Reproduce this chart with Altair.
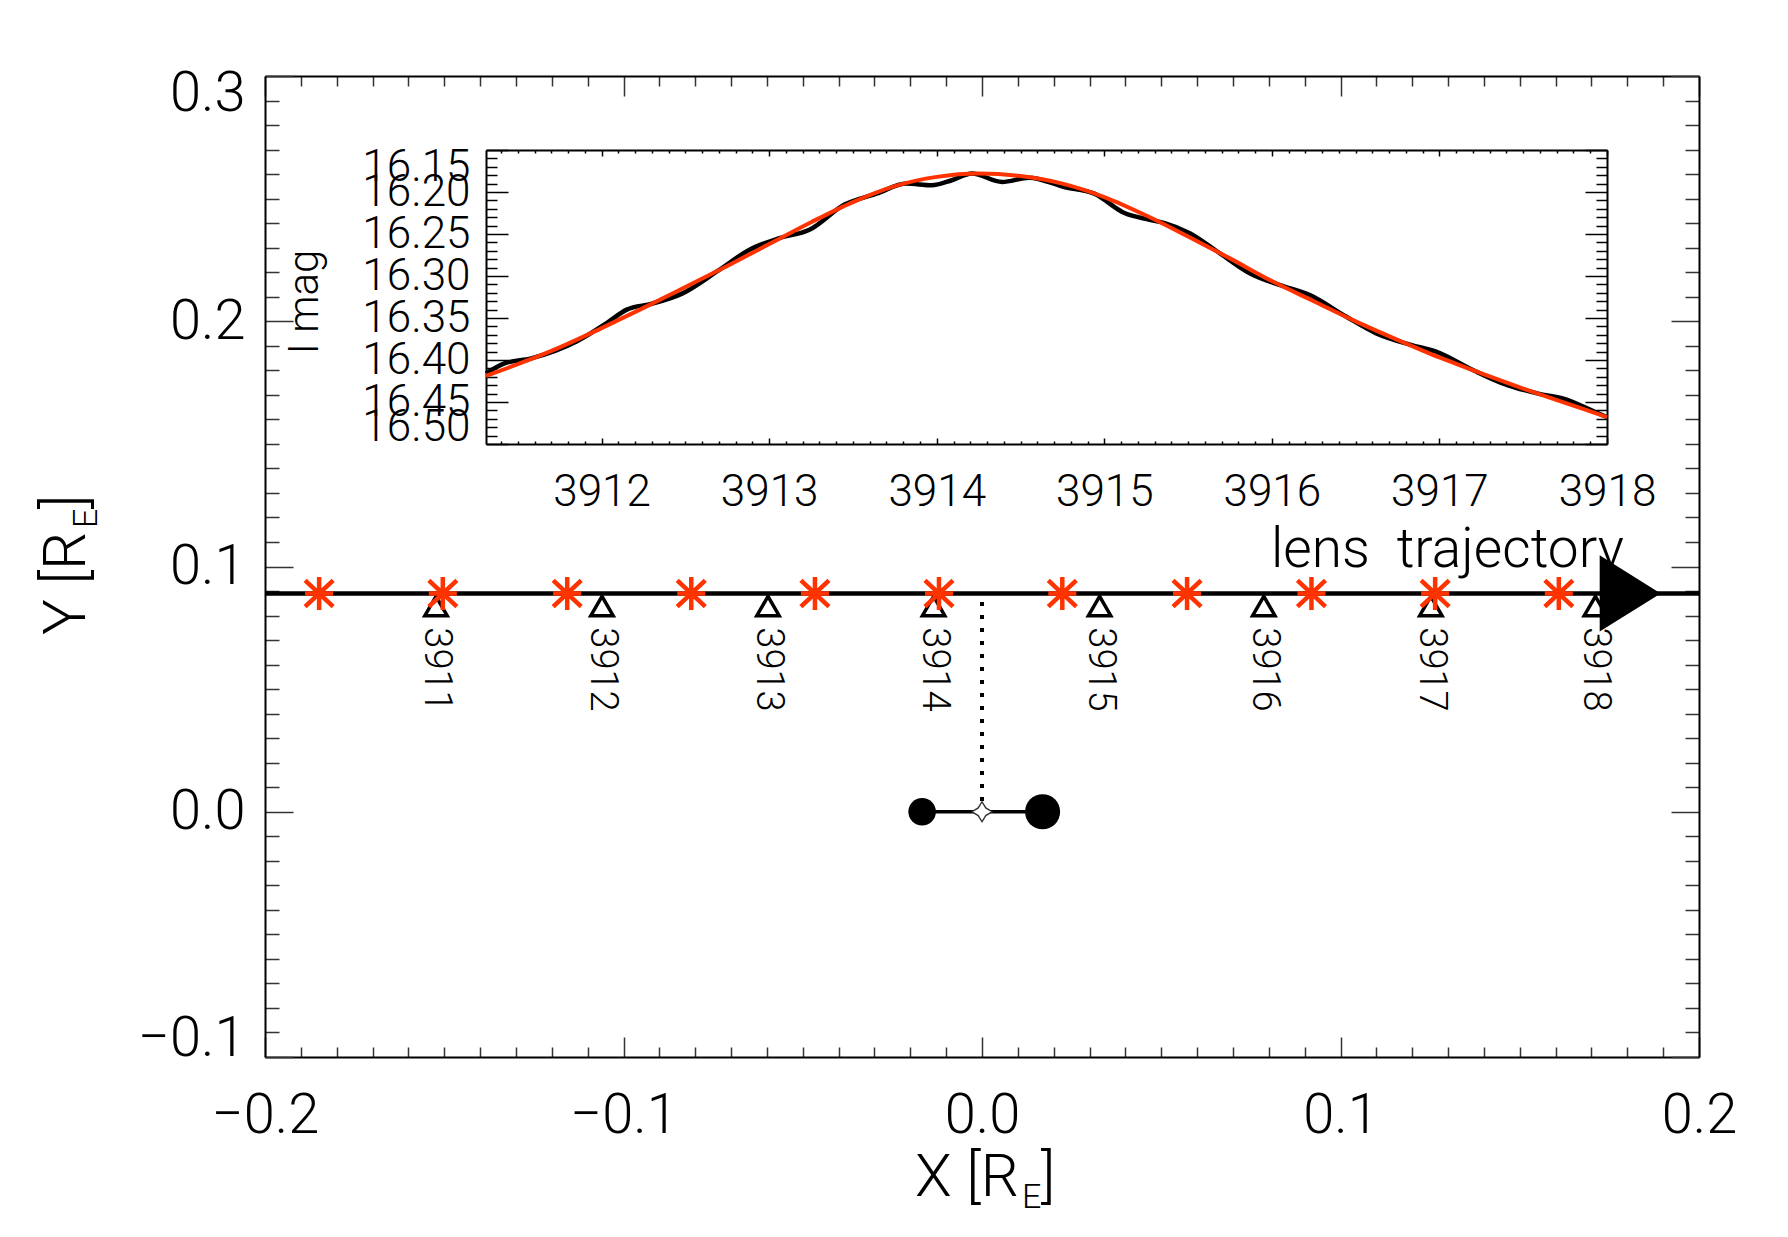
import altair as alt
import pandas as pd

FONT = "Roboto"
FW = 300
RED = "#FF3300"

# ---------------- main panel data ----------------
traj_x = [-0.2, 0.2]
traj_y = [0.089, 0.089]

arrow_x = [0.1808]
arrow_y = [0.089]

star_x = [-0.1849, -0.1504, -0.1157, -0.0811, -0.0466, -0.0120,
          0.0224, 0.0572, 0.0919, 0.1264, 0.1609]
star_y = [0.089, 0.089, 0.089, 0.089, 0.089, 0.089,
          0.089, 0.089, 0.089, 0.089, 0.089]

tri_x = [-0.1523, -0.1060, -0.0597, -0.0135, 0.0328, 0.0786, 0.1252, 0.1711]
tri_y = [0.0839, 0.0839, 0.0839, 0.0839, 0.0839, 0.0839, 0.0839, 0.0839]
tri_day = ["3911", "3912", "3913", "3914", "3915", "3916", "3917", "3918"]
day_y = [0.0752, 0.0752, 0.0752, 0.0752, 0.0752, 0.0752, 0.0752, 0.0752]

lens_x = [-0.0167, 0.0169]
lens_y = [0.0, 0.0]
lens_size = [760, 1230]

cm_x = [0.0]
cm_y = [0.0]

dot_x = [0.0, 0.0]
dot_y = [0.0855, 0.004]

note_x = [0.0806]
note_y = [0.0998]
note_text = ["lens\u00a0\u00a0trajectory"]

# ---------------- inset light curves ----------------
red_t = [3911.31, 3911.5, 3911.75, 3912.0, 3912.25, 3912.5, 3912.75, 3913.0,
         3913.25, 3913.5, 3913.75, 3914.0, 3914.25, 3914.5, 3914.75, 3915.0,
         3915.25, 3915.5, 3915.75, 3916.0, 3916.25, 3916.5, 3916.75, 3917.0,
         3917.25, 3917.5, 3917.75, 3918.0]
red_mag = [16.419, 16.405, 16.385, 16.362, 16.338, 16.313, 16.288, 16.262,
           16.236, 16.212, 16.193, 16.182, 16.178, 16.181, 16.190, 16.206,
           16.228, 16.253, 16.279, 16.306, 16.330, 16.354, 16.376, 16.397,
           16.416, 16.434, 16.451, 16.468]

black_t = [3911.31, 3911.42, 3911.58, 3911.85, 3912.03, 3912.15, 3912.30, 3912.48,
           3912.70, 3912.88, 3913.06, 3913.24, 3913.45, 3913.64, 3913.82, 3913.97,
           3914.09, 3914.21, 3914.39, 3914.55, 3914.76, 3914.94, 3915.12, 3915.27,
           3915.36, 3915.51, 3915.69, 3915.87, 3916.05, 3916.23, 3916.44, 3916.62,
           3916.83, 3916.98, 3917.20, 3917.38, 3917.59, 3917.74, 3917.92, 3918.0]
black_mag = [16.416, 16.404, 16.398, 16.378, 16.356, 16.340, 16.333, 16.321,
             16.293, 16.269, 16.255, 16.245, 16.215, 16.202, 16.190, 16.192,
             16.186, 16.178, 16.188, 16.183, 16.194, 16.202, 16.225, 16.233,
             16.237, 16.249, 16.273, 16.297, 16.311, 16.323, 16.348, 16.368,
             16.382, 16.390, 16.412, 16.428, 16.440, 16.446, 16.461, 16.468]

# ---------------- tick positions ----------------
x_ticks = [round(-0.2 + 0.01 * i, 2) for i in range(41)]
y_ticks = [round(-0.1 + 0.01 * i, 2) for i in range(41)]
t_ticks = [round(3911.4 + 0.1 * i, 1) for i in range(67)]
m_ticks = [round(16.15 + 0.01 * i, 2) for i in range(36)]

W, H = 1434, 981
IN_X = [221, 1342]
IN_Y = [74, 368]

MAJ01 = "abs(datum.value*10-round(datum.value*10))<1e-6"
MAJ1 = "abs(datum.value-round(datum.value))<1e-6"
MAJ05 = "abs(datum.value*20-round(datum.value*20))<1e-6"


def tsize(test, major, minor):
    return {"condition": {"test": test, "value": major}, "value": minor}


def axis(orient, values, test, major, minor, labels=False, expr=None,
         pad=0, fsize=54, flush=False, flush_off=0, offset=0, tcolor="#333"):
    kw = dict(orient=orient, values=values, tickSize=tsize(test, major, minor),
              labels=labels, title=None, grid=False, domain=True,
              domainColor="black", domainWidth=2, tickColor=tcolor,
              tickWidth=1.5, offset=offset)
    if labels:
        kw.update(labelExpr=expr, labelPadding=pad, labelFontSize=fsize,
                  labelFont=FONT, labelFontWeight=FW, labelColor="black",
                  labelFlush=flush, labelOverlap=False)
        if flush:
            kw.update(labelFlushOffset=flush_off)
    return alt.Axis(**kw)


sx = alt.Scale(domain=[-0.2, 0.2], nice=False, zero=False)
sy = alt.Scale(domain=[-0.1, 0.3], nice=False, zero=False)

traj_df = pd.DataFrame({"x": traj_x, "y": traj_y})
traj = alt.Chart(traj_df).mark_line(color="black", strokeWidth=4.5).encode(
    x=alt.X("x:Q", scale=sx,
            axis=axis("bottom", x_ticks, MAJ01, -20, -10, labels=True,
                      expr=MAJ01 + " ? format(datum.value,'.1f') : ''",
                      pad=51, fsize=56, flush=False)),
    y=alt.Y("y:Q", scale=sy,
            axis=axis("left", y_ticks, MAJ01, -28, -14, labels=True,
                      expr=MAJ01 + " ? format(datum.value,'.1f') : ''",
                      pad=48, fsize=56, flush=True, flush_off=10)),
)

ARROW = "M-1,-1.25L1,0L-1,1.25Z"
arrow_df = pd.DataFrame({"x": arrow_x, "y": arrow_y})
arrow = alt.Chart(arrow_df).mark_point(
    shape=ARROW, filled=True, color="black", size=3721, opacity=1, strokeWidth=0
).encode(
    x=alt.X("x:Q", scale=sx, axis=axis("top", x_ticks, MAJ01, -20, -10)),
    y=alt.Y("y:Q", scale=sy, axis=axis("right", y_ticks, MAJ01, -28, -14)),
)

dot_df = pd.DataFrame({"x": dot_x, "y": dot_y})
dotted = alt.Chart(dot_df).mark_line(
    color="black", strokeWidth=4, strokeDash=[4, 9]
).encode(x=alt.X("x:Q", scale=sx, axis=None), y=alt.Y("y:Q", scale=sy, axis=None))

lens_df = pd.DataFrame({"x": lens_x, "y": lens_y, "s": lens_size})
lens_line = alt.Chart(lens_df).mark_line(color="black", strokeWidth=3.3).encode(
    x=alt.X("x:Q", scale=sx, axis=None), y=alt.Y("y:Q", scale=sy, axis=None))
lens_pts = alt.Chart(lens_df).mark_circle(color="black", opacity=1).encode(
    x=alt.X("x:Q", scale=sx, axis=None), y=alt.Y("y:Q", scale=sy, axis=None),
    size=alt.Size("s:Q", scale=None, legend=None))

STAR4 = "M0,-1L0.38,-0.38L1,0L0.38,0.38L0,1L-0.38,0.38L-1,0L-0.38,-0.38Z"
cm_df = pd.DataFrame({"x": cm_x, "y": cm_y})
cm = alt.Chart(cm_df).mark_point(
    shape=STAR4, filled=True, fill="white", stroke="#333", strokeWidth=1.4,
    size=400, opacity=1
).encode(x=alt.X("x:Q", scale=sx, axis=None), y=alt.Y("y:Q", scale=sy, axis=None))

tri_df = pd.DataFrame({"x": tri_x, "y": tri_y, "d": tri_day, "ly": day_y})
tris = alt.Chart(tri_df).mark_point(
    shape="triangle-up", filled=False, color="black", strokeWidth=3.5, size=500, opacity=1
).encode(x=alt.X("x:Q", scale=sx, axis=None), y=alt.Y("y:Q", scale=sy, axis=None))
days = alt.Chart(tri_df).mark_text(
    angle=90, align="left", baseline="middle", fontSize=38, font=FONT,
    fontWeight=FW, color="black"
).encode(x=alt.X("x:Q", scale=sx, axis=None), y=alt.Y("ly:Q", scale=sy, axis=None),
         text="d:N")

AST = "M0,-1L0,1M-0.85,0L0.85,0M-0.85,-0.8L0.85,0.8M-0.85,0.8L0.85,-0.8"
star_df = pd.DataFrame({"x": star_x, "y": star_y})
stars = alt.Chart(star_df).mark_point(
    shape=AST, filled=False, color=RED, strokeWidth=4.5, size=1089, opacity=1
).encode(x=alt.X("x:Q", scale=sx, axis=None), y=alt.Y("y:Q", scale=sy, axis=None))

note_df = pd.DataFrame({"x": note_x, "y": note_y, "t": note_text})
note = alt.Chart(note_df).mark_text(
    align="left", baseline="alphabetic", fontSize=55, font=FONT, fontWeight=FW,
    color="black"
).encode(x=alt.X("x:Q", scale=sx, axis=None), y=alt.Y("y:Q", scale=sy, axis=None),
         text="t:N")

one = pd.DataFrame({"a": [0]})


def label(text, px, py, size, angle=0):
    return alt.Chart(one).mark_text(
        text=text, align="left", baseline="alphabetic", fontSize=size, font=FONT,
        fontWeight=FW, color="black", angle=angle
    ).encode(x=alt.value(px), y=alt.value(py))


xt1 = label("X [R", 650, 1120, 60)
xt2 = label("E", 757, 1132, 34)
xt3 = label("]", 776, 1120, 60)
yt1 = label("Y [R", -180, 559, 60, angle=270)
yt2 = label("E", -168, 452, 34, angle=270)
yt3 = label("]", -180, 433, 60, angle=270)
imag = alt.Chart(one).mark_text(
    text="I mag", align="center", baseline="alphabetic", fontSize=42, font=FONT,
    fontWeight=FW, color="black", angle=270
).encode(x=alt.value(53), y=alt.value(226))

main = alt.layer(
    traj, arrow, dotted, lens_line, lens_pts, cm, tris, stars, days, note,
    xt1, xt2, xt3, yt1, yt2, yt3, imag
).resolve_axis(x="independent", y="independent")

# ---------------- inset ----------------
st = alt.Scale(domain=[3911.31, 3918.0], range=IN_X, nice=False, zero=False)
sm = alt.Scale(domain=[16.15, 16.50], range=IN_Y, nice=False, zero=False)

black_df = pd.DataFrame({"t": black_t, "mag": black_mag})
red_df = pd.DataFrame({"t": red_t, "mag": red_mag})

black = alt.Chart(black_df).mark_line(
    color="black", strokeWidth=4.5, interpolate="monotone"
).encode(
    x=alt.X("t:Q", scale=st,
            axis=axis("bottom", t_ticks, MAJ1, -6, -3, labels=True,
                      expr=MAJ1 + " ? format(round(datum.value),'d') : ''",
                      pad=32, fsize=44, flush=False, offset=-(H - IN_Y[1]),
                      tcolor="black")),
    y=alt.Y("mag:Q", scale=sm,
            axis=axis("left", m_ticks, MAJ05, -22, -11, labels=True,
                      expr=MAJ05 + " ? format(datum.value,'.2f') : ''",
                      pad=38, fsize=44, flush=True, flush_off=5, offset=-IN_X[0],
                      tcolor="black")),
)
red = alt.Chart(red_df).mark_line(
    color=RED, strokeWidth=4, interpolate="monotone"
).encode(
    x=alt.X("t:Q", scale=st,
            axis=axis("top", t_ticks, MAJ1, -6, -3, offset=-IN_Y[0], tcolor="black")),
    y=alt.Y("mag:Q", scale=sm,
            axis=axis("right", m_ticks, MAJ05, -22, -11, offset=-(W - IN_X[1]),
                      tcolor="black")),
)

inset = alt.layer(black, red).resolve_axis(x="independent", y="independent")

chart = alt.layer(inset, main).resolve_scale(
    x="independent", y="independent"
).properties(
    width=W, height=H,
    padding={"left": 257, "top": 68, "right": 80, "bottom": 160},
    autosize=alt.AutoSizeParams(type="none"),
    background="white",
).configure_view(stroke=None)

chart.save("out.html", embed_options={"renderer": "svg", "actions": False})
